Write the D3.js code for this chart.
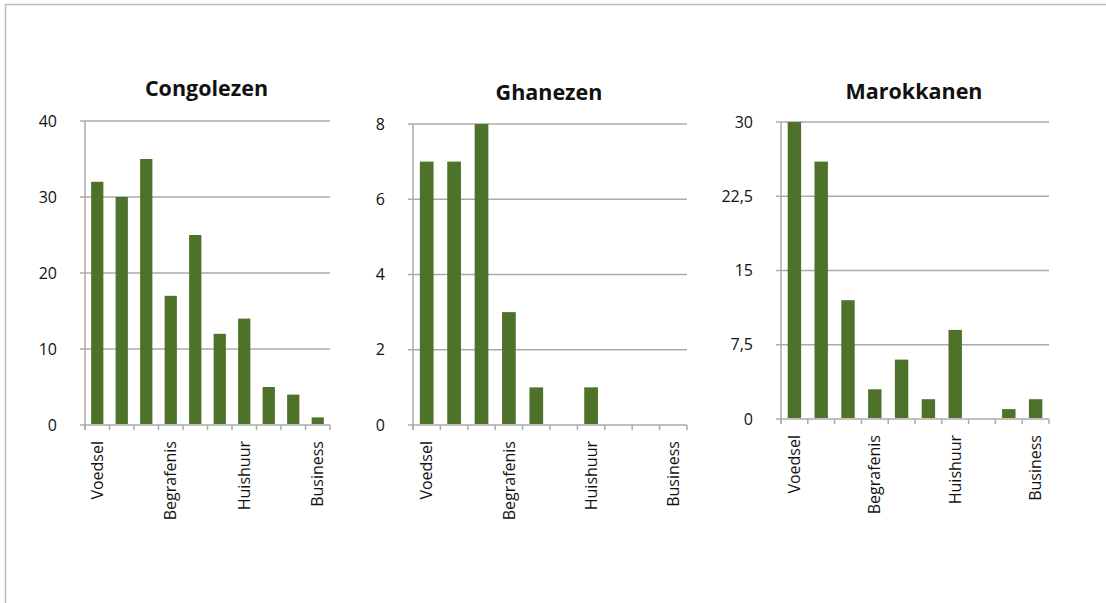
<!DOCTYPE html>
<html>
<head>
<meta charset="utf-8">
<script src="https://cdn.jsdelivr.net/npm/d3@7/dist/d3.min.js"></script>
<style>
  html, body { margin: 0; padding: 0; background: #fff; }
  svg { display: block; font-family: "Open Sans", sans-serif; }
</style>
</head>
<body>
<div id="graph_container"></div>
<script>
// categorie labels (alleen elke derde is zichtbaar in het origineel)
var categories    = ["Voedsel", "", "", "Begrafenis", "", "", "Huishuur", "", "", "Business"];

var titles        = ["Congolezen", "Ghanezen", "Marokkanen"];
var congolezen    = [32, 30, 35, 17, 25, 12, 14, 5, 4, 1];
var ghanezen      = [7, 7, 8, 3, 1, 0, 1, 0, 0, 0];
var marokkanen    = [30, 26, 12, 3, 6, 2, 9, 0, 1, 2];

var ticks_congo   = [0, 10, 20, 30, 40];
var ticks_ghana   = [0, 2, 4, 6, 8];
var ticks_marok   = [0, 7.5, 15, 22.5, 30];

var width  = 1106;
var height = 603;

var grid_color = "#ababab";
var bar_color  = "#4e7229";

// plaats van elk paneel op de pagina
var panels = [
    { title: titles[0], values: congolezen, ticks: ticks_congo, left: 85,  right: 330,  top: 121, bottom: 425, title_y: 96 },
    { title: titles[1], values: ghanezen,   ticks: ticks_ghana, left: 413, right: 687,  top: 124, bottom: 425, title_y: 100 },
    { title: titles[2], values: marokkanen, ticks: ticks_marok, left: 781, right: 1049, top: 122, bottom: 419, title_y: 99 }
];

var svg = d3.select("#graph_container").append("svg")
    .attr("width", width)
    .attr("height", height);

// kader
svg.append("rect")
    .attr("x", 5.5).attr("y", 4.5)
    .attr("width", width + 20).attr("height", height + 20)
    .attr("fill", "none")
    .attr("stroke", "#c0bdbd")
    .attr("stroke-width", 1.5);

var fmt = function(d) { return String(d).replace(".", ","); };

function draw_panel(p) {
    var g = svg.append("g");

    var x = d3.scaleBand()
        .domain(d3.range(categories.length))
        .range([p.left, p.right])
        .paddingInner(0.5)
        .paddingOuter(0.25);

    var y = d3.scaleLinear()
        .domain([0, d3.max(p.ticks)])
        .range([p.bottom, p.top]);

    // rasterlijnen
    g.selectAll(".grid").data(p.ticks).enter().append("line")
        .attr("x1", p.left - 5)
        .attr("x2", p.right)
        .attr("y1", function(d) { return y(d); })
        .attr("y2", function(d) { return y(d); })
        .attr("stroke", grid_color)
        .attr("stroke-width", 1.5);

    // y-as
    var yAxis = g.append("g")
        .attr("transform", "translate(" + p.left + ",0)")
        .call(d3.axisLeft(y).tickValues(p.ticks).tickFormat(fmt).tickSize(0).tickPadding(28));
    yAxis.select(".domain").remove();
    yAxis.selectAll("text")
        .attr("font-size", "16px")
        .attr("fill", "#111")
        .attr("font-family", "Open Sans, sans-serif");

    g.append("line")
        .attr("x1", p.left).attr("x2", p.left)
        .attr("y1", p.top).attr("y2", p.bottom + 5)
        .attr("stroke", grid_color)
        .attr("stroke-width", 1.5);

    // x-as streepjes op de grenzen van de banden
    var edges = d3.range(categories.length + 1).map(function(i) { return p.left + i * (p.right - p.left) / categories.length; });
    g.selectAll(".xtick").data(edges).enter().append("line")
        .attr("x1", function(d) { return d; })
        .attr("x2", function(d) { return d; })
        .attr("y1", p.bottom)
        .attr("y2", p.bottom + 5)
        .attr("stroke", grid_color)
        .attr("stroke-width", 1.5);

    // staven
    g.selectAll(".bar").data(p.values).enter().append("rect")
        .attr("x", function(d, i) { return x(i); })
        .attr("y", function(d) { return y(d); })
        .attr("width", x.bandwidth())
        .attr("height", function(d) { return y(0) - y(d) - 1; })
        .attr("fill", bar_color);

    // categorie labels
    g.selectAll(".cat").data(categories).enter().append("text")
        .filter(function(d) { return d !== ""; })
        .attr("transform", function(d) {
            var cx = x(categories.indexOf(d)) + x.bandwidth() / 2;
            return "translate(" + cx + "," + (p.bottom + 16) + ") rotate(-90)";
        })
        .attr("text-anchor", "end")
        .attr("dy", "0.35em")
        .attr("font-size", "16px")
        .attr("fill", "#111")
        .text(function(d) { return d; });

    // titel
    g.append("text")
        .attr("x", (p.left + p.right) / 2 - 1)
        .attr("y", p.title_y)
        .attr("text-anchor", "middle")
        .attr("font-size", "21.5px")
        .attr("font-weight", "bold")
        .attr("fill", "#111")
        .text(p.title);
}

for (var i = 0; i < panels.length; i++) {
    draw_panel(panels[i]);
}
</script>
</body>
</html>
